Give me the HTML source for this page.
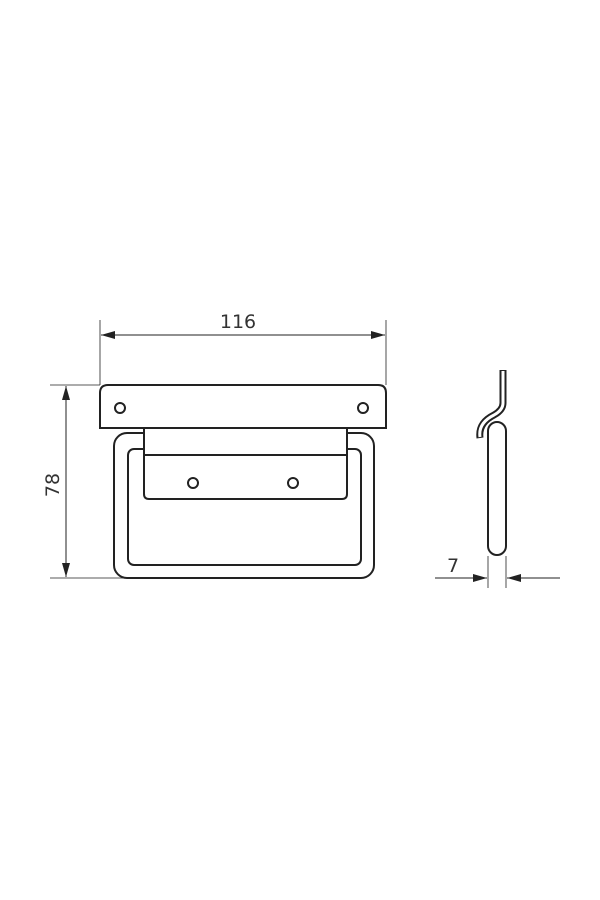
<!DOCTYPE html>
<html><head><style>html,body{margin:0;padding:0;background:#fff}svg{display:block}</style></head>
<body>
<svg width="600" height="900" viewBox="0 0 600 900" xmlns="http://www.w3.org/2000/svg">
<defs>
<marker id="a" viewBox="0 0 14 8" refX="14" refY="4" markerWidth="14" markerHeight="8" markerUnits="userSpaceOnUse" orient="auto-start-reverse"><path d="M0,0L14,4L0,8z" fill="#222"/></marker>
</defs>
<g fill="none" stroke="#222">
<line x1="100" y1="320" x2="100" y2="385" stroke-width="0.8"/>
<line x1="386" y1="320" x2="386" y2="385" stroke-width="0.8"/>
<line x1="101" y1="335" x2="385" y2="335" stroke-width="1" marker-start="url(#a)" marker-end="url(#a)"/>
<line x1="50" y1="385" x2="100" y2="385" stroke-width="0.8"/>
<line x1="50" y1="578" x2="140" y2="578" stroke-width="0.8"/>
<line x1="66" y1="386" x2="66" y2="577" stroke-width="1" marker-start="url(#a)" marker-end="url(#a)"/>
<rect x="114" y="433" width="260" height="145" rx="13" stroke-width="2"/>
<rect x="128" y="449" width="233" height="116" rx="6" stroke-width="2"/>
<path d="M144,428 V494 Q144,499 149,499 H342 Q347,499 347,494 V428" fill="#fff" stroke-width="2"/>
<line x1="144" y1="455" x2="347" y2="455" stroke-width="2"/>
<circle cx="193" cy="483" r="5" stroke-width="2"/>
<circle cx="293" cy="483" r="5" stroke-width="2"/>
<path d="M100,428 V393 Q100,385 108,385 H378 Q386,385 386,393 V428 Z" fill="#fff" stroke-width="2"/>
<circle cx="120" cy="408" r="5" stroke-width="2"/>
<circle cx="363" cy="408" r="5" stroke-width="2"/>
<path d="M503,370 V403 Q503,410 494,415 Q478,423 480,438" stroke-width="7" stroke-linecap="butt"/>
<path d="M503,371 V403 Q503,410 494,415 Q478,423 480,437" stroke="#fff" stroke-width="3"/>
<rect x="488" y="422" width="18" height="133" rx="9" fill="#fff" stroke-width="2"/>
<line x1="488" y1="556" x2="488" y2="588" stroke-width="0.8"/>
<line x1="506" y1="556" x2="506" y2="588" stroke-width="0.8"/>
<line x1="435" y1="578" x2="487" y2="578" stroke-width="1" marker-end="url(#a)"/>
<line x1="560" y1="578" x2="507" y2="578" stroke-width="1" marker-end="url(#a)"/>
</g>
<g font-family="DejaVu Sans, sans-serif" font-size="19" fill="#333">
<text x="238" y="328" text-anchor="middle">116</text>
<text x="0" y="0" text-anchor="middle" transform="translate(59,485) rotate(-90)">78</text>
<text x="453" y="572" text-anchor="middle">7</text>
</g>
</svg>
</body></html>
